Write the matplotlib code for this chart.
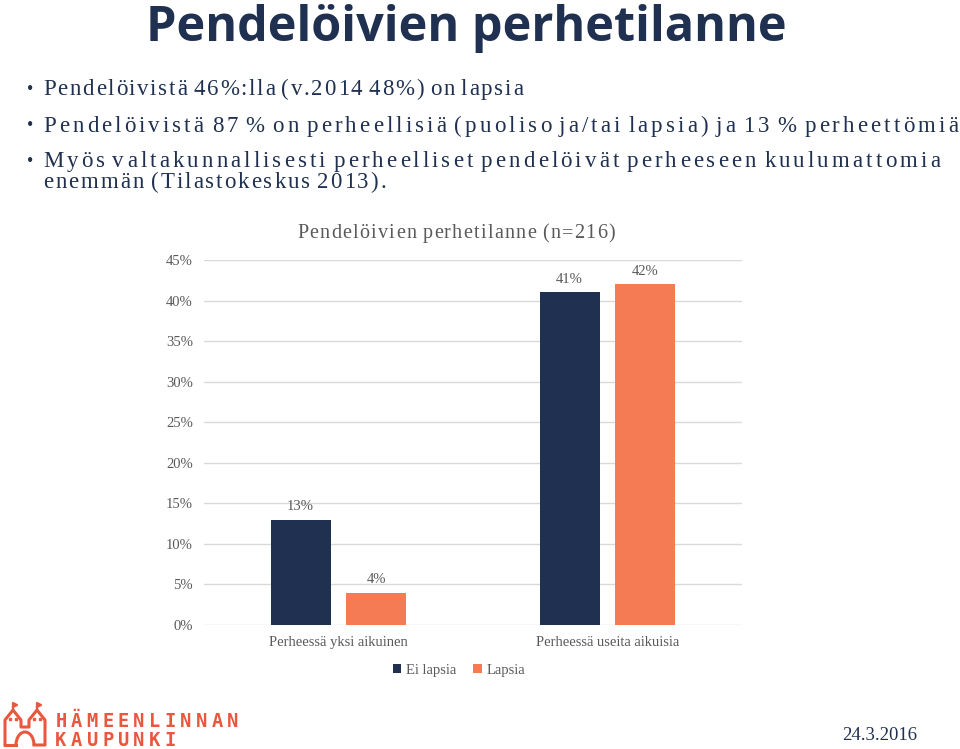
import matplotlib
matplotlib.use("Agg")
import matplotlib.pyplot as plt
import numpy as np
from matplotlib.font_manager import FontProperties, findfont, get_font
from matplotlib.lines import Line2D
from matplotlib.patches import Arc

categories = ["Perheessä yksi aikuinen", "Perheessä useita aikuisia"]
ei_lapsia = [0.13, 0.41]
lapsia = [0.04, 0.42]
series_names = ["Ei lapsia", "Lapsia"]

title = "Pendelöivien perhetilanne"
bullet_lines = [
    "Pendelöivistä 46%:lla (v.2014 48%) on lapsia",
    "Pendelöivistä 87 % on perheellisiä (puoliso ja/tai lapsia) ja 13 % perheettömiä",
    "Myös valtakunnallisesti perheelliset pendelöivät perheeseen kuulumattomia",
    "enemmän (Tilastokeskus 2013).",
]
chart_title = "Pendelöivien perhetilanne (n=216)"
logo_lines = ["HÄMEENLINNAN", "KAUPUNKI"]
date = "24.3.2016"

navy = "#1f3050"
orange = "#f47b53"
logo_col = "#e9573f"
grey = "#595959"
serif = "Liberation Serif"

W, H = 960, 749
fig = plt.figure(figsize=(9.6, 7.49), dpi=100)


def tracked(s, x0, x1, ybase, size, color, space_gap=-1.0):
    # draw text char by char so that it fills x0..x1 (pixels), like the slide's wide letter spacing
    fp = FontProperties(family=serif, size=size)
    font = get_font(findfont(fp))
    font.set_size(size, 100)
    adv = [font.load_char(ord(c)).linearHoriAdvance / 65536 for c in s]
    n_sp = s.count(" ")
    n_let = len(s) - 1 - n_sp
    gap = (x1 - x0 - sum(adv) - n_sp * space_gap) / n_let
    x = x0
    for c, a in zip(s, adv):
        if c != " ":
            fig.text(x / W, 1 - ybase / H, c, ha="left", va="baseline",
                     fontproperties=fp, color=color)
        x += a + (space_gap if c == " " else gap)


fig.text(0.486, 1 - 41 / H, title, ha="center", va="baseline", fontsize=35,
         fontweight="bold", family="Open Sans", color=navy)

# bullets
bases = [95, 132, 167, 188]
ends = [523, 958, 940, 386]
for i, (t, yb, xe) in enumerate(zip(bullet_lines, bases, ends)):
    if i < 3:
        fig.text(30 / W, 1 - (yb - 6) / H, "•", ha="center", va="center",
                 fontsize=13, family=serif, color=navy)
    tracked(t, 43, xe, yb, 16.5, navy)

ax = fig.add_axes([204 / W, 1 - 625 / H, 538 / W, 365 / H])
x = np.arange(len(categories))
w = 0.223
off = 0.141
b1 = ax.bar(x - off, ei_lapsia, w, color=navy, label=series_names[0], zorder=3)
b2 = ax.bar(x + off, lapsia, w, color=orange, label=series_names[1], zorder=3)
for bars in (b1, b2):
    for r in bars:
        ax.text(r.get_x() + r.get_width() / 2, r.get_height() + 0.008,
                "%d%%" % round(r.get_height() * 100), ha="center", va="bottom",
                fontsize=10.5, family=serif, color=grey)

ax.set_xlim(-0.5, 1.5)
ax.set_ylim(0, 0.45)
ax.set_yticks(np.arange(0, 0.46, 0.05))
ax.set_yticklabels(["%d%%" % v for v in range(0, 46, 5)], family=serif, fontsize=10.5, color=grey)
ax.set_xticks(x)
ax.set_xticklabels(categories, family=serif, fontsize=10.5, color=grey)
ax.tick_params(length=0)
ax.tick_params(axis="y", pad=8)
ax.tick_params(axis="x", pad=8)
ax.grid(axis="y", color="#d9d9d9", linewidth=1, zorder=0)
for s in ax.spines.values():
    s.set_visible(False)

tracked(chart_title, 297, 615, 238, 14.5, grey, space_gap=0.0)

fig.legend(handles=[b1, b2], labels=series_names, loc="center", bbox_to_anchor=(0.478, 0.105),
           ncol=2, frameon=False, prop={"family": serif, "size": 10.5}, handlelength=0.6,
           handleheight=0.6, handletextpad=0.3, columnspacing=1.2, labelcolor=grey)

# logo icon (simple outline)
ox = [5, 5, 13, 21, 21, 29, 29, 37, 45, 45, 34]
oy = [745, 720, 710, 720, 727, 727, 720, 710, 720, 745, 745]
fig.add_artist(Line2D(np.array(ox) / W, 1 - np.array(oy) / H, color=logo_col, lw=2.2,
                      transform=fig.transFigure))
fig.add_artist(Line2D(np.array([5, 16]) / W, 1 - np.array([745, 745]) / H, color=logo_col,
                      lw=2.2, transform=fig.transFigure))
fig.add_artist(Arc((25 / W, 1 - 745 / H), 18 / W, 26 / H, theta1=0, theta2=180,
                   color=logo_col, lw=2.2, transform=fig.transFigure))
for fx in (13, 37):
    fig.add_artist(Line2D(np.array([fx, fx, fx + 4, fx]) / W,
                          1 - np.array([710, 703, 705, 707]) / H, color=logo_col, lw=1.6,
                          transform=fig.transFigure))
    for dx in (-3, 3):
        fig.add_artist(Line2D([(fx + dx) / W], [1 - 719 / H], marker="s", ms=1.8,
                              color=logo_col, transform=fig.transFigure))

# logo text, evenly spaced letters
for line, yb in zip(logo_lines, [727, 746]):
    for i, c in enumerate(line):
        fig.text((61 + 15.6 * i) / W, 1 - yb / H, c, ha="center", va="baseline",
                 fontsize=13.5, fontweight="bold", family="DejaVu Sans Mono", color=logo_col)

fig.text(917 / W, 1 - 740 / H, date, ha="right", va="baseline", fontsize=13.5,
         family=serif, color=navy)

fig.savefig("out.png", dpi=100)
